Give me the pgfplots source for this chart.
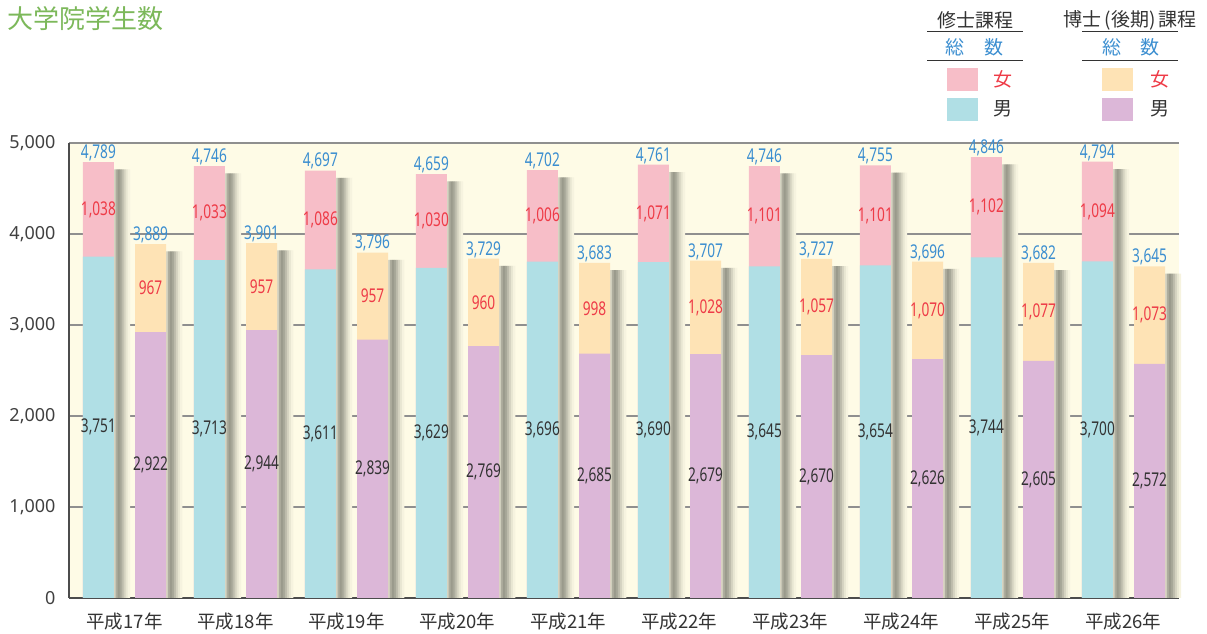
\documentclass[border=0pt]{standalone}
\usepackage{fontspec}
\setmainfont{Noto Sans CJK JP}
\newfontfamily\numfont[FakeStretch=0.72]{Noto Sans}
\newfontfamily\tickfont{Noto Sans}
\usepackage{pgfplots}
\usepackage{pgfplotstable}
\pgfplotsset{compat=1.18}

\definecolor{cream}{HTML}{FEFBE6}
\definecolor{mpink}{HTML}{F7BEC8}
\definecolor{mcyan}{HTML}{B0DFE5}
\definecolor{dpeach}{HTML}{FEE3B5}
\definecolor{dpurple}{HTML}{DCB7D8}
\definecolor{totc}{HTML}{3B8ED0}
\definecolor{femc}{HTML}{EE3B47}
\definecolor{malc}{HTML}{333333}
\definecolor{titlec}{HTML}{7CB85A}
\definecolor{gridc}{HTML}{8F8F8F}
\definecolor{shadowc}{HTML}{9A9A8C}
\colorlet{sh0}{shadowc!40!cream}
\colorlet{sh1}{shadowc!80!cream}
\colorlet{sh2}{shadowc!100!cream}
\colorlet{sh3}{shadowc!88!cream}
\colorlet{sh4}{shadowc!66!cream}
\colorlet{sh5}{shadowc!42!cream}
\colorlet{sh6}{shadowc!22!cream}
\colorlet{sh7}{shadowc!8!cream}

\pgfplotstableread{
idx mm mf mt dm df dt
0 3751 1038 4789 2922 967 3889
1 3713 1033 4746 2944 957 3901
2 3611 1086 4697 2839 957 3796
3 3629 1030 4659 2769 960 3729
4 3696 1006 4702 2685 998 3683
5 3690 1071 4761 2679 1028 3707
6 3645 1101 4746 2670 1057 3727
7 3654 1101 4755 2626 1070 3696
8 3744 1102 4846 2605 1077 3682
9 3700 1094 4794 2572 1073 3645
}\data

% #1 x offset, #2 total column, #3 shift, #4 colour
\newcommand\strip[4]{%
 \addplot[ybar,bar width=2.4pt,bar shift=#3,draw=none,fill=#4] table[x expr=\thisrow{idx}#1, y expr=\thisrow{#2}-80]{\data};}
\newcommand\shadowstrips[2]{%
 \strip{#1}{#2}{16.5pt}{sh0}\strip{#1}{#2}{18.5pt}{sh1}\strip{#1}{#2}{20.5pt}{sh2}\strip{#1}{#2}{22.5pt}{sh3}%
 \strip{#1}{#2}{24.5pt}{sh4}\strip{#1}{#2}{26.5pt}{sh5}\strip{#1}{#2}{28.5pt}{sh6}\strip{#1}{#2}{30.5pt}{sh7}}
\newcommand\numlbl{\numfont\fontsize{19}{19}\selectfont}

\begin{document}
\begin{tikzpicture}[x=1pt,y=1pt]
\useasboundingbox (0,0) rectangle (1207,634);
\begin{axis}[
  at={(69pt,36pt)}, anchor=south west,
  scale only axis, width=1110pt, height=455pt,
  xmin=-0.5, xmax=9.5, ymin=0, ymax=5000,
  clip=false,
  axis background/.style={fill=cream},
  axis x line*=bottom, axis y line*=left,
  axis line style={draw=black!70, line width=1.3pt},
  ymajorgrids, grid style={draw=gridc, line width=1.3pt},
  ytick={0,1000,...,5000},
  scaled y ticks=false,
  xtick={0,...,9},
  xticklabels={平成17年,平成18年,平成19年,平成20年,平成21年,平成22年,平成23年,平成24年,平成25年,平成26年},
  minor xtick={0.5,1.5,...,8.5},
  tick align=inside, major tick length=0pt, minor tick length=7pt,
  minor tick style={draw=black!70, line width=0.8pt},
  /pgf/number format/1000 sep={,},
  /pgf/number format/assume math mode=true,
  yticklabel style={font=\tickfont\fontsize{18}{18}\selectfont, text=black!75, xshift=-10pt},
  xticklabel style={font=\fontsize{18.5}{18.5}\selectfont, text=black!80, yshift=-11pt},
]
% shadows
\shadowstrips{-0.235}{mt}
\shadowstrips{+0.235}{dt}
% master bars
\addplot[ybar, bar width=31pt, bar shift=0pt, draw=none, fill=mpink] table[x expr=\thisrow{idx}-0.235, y=mt]{\data};
\addplot[ybar, bar width=31pt, bar shift=0pt, draw=none, fill=mcyan] table[x expr=\thisrow{idx}-0.235, y=mm]{\data};
% doctor bars
\addplot[ybar, bar width=31pt, bar shift=0pt, draw=none, fill=dpeach] table[x expr=\thisrow{idx}+0.235, y=dt]{\data};
\addplot[ybar, bar width=31pt, bar shift=0pt, draw=none, fill=dpurple] table[x expr=\thisrow{idx}+0.235, y=dm]{\data};
% labels: totals
\addplot[draw=none, nodes near coords, point meta=explicit,
  nodes near coords style={font=\numlbl, text=totc, anchor=south, inner sep=0pt, yshift=1pt}]
  table[x expr=\thisrow{idx}-0.235, y=mt, meta=mt]{\data};
\addplot[draw=none, nodes near coords, point meta=explicit,
  nodes near coords style={font=\numlbl, text=totc, anchor=south, inner sep=0pt, yshift=1pt}]
  table[x expr=\thisrow{idx}+0.235, y=dt, meta=dt]{\data};
% female
\addplot[draw=none, nodes near coords, point meta=explicit,
  nodes near coords style={font=\numlbl, text=femc, anchor=center}]
  table[x expr=\thisrow{idx}-0.235, y expr=\thisrow{mm}+\thisrow{mf}/2, meta=mf]{\data};
\addplot[draw=none, nodes near coords, point meta=explicit,
  nodes near coords style={font=\numlbl, text=femc, anchor=center}]
  table[x expr=\thisrow{idx}+0.235, y expr=\thisrow{dm}+\thisrow{df}/2, meta=df]{\data};
% male
\addplot[draw=none, nodes near coords, point meta=explicit,
  nodes near coords style={font=\numlbl, text=malc, anchor=center}]
  table[x expr=\thisrow{idx}-0.235, y expr=\thisrow{mm}/2, meta=mm]{\data};
\addplot[draw=none, nodes near coords, point meta=explicit,
  nodes near coords style={font=\numlbl, text=malc, anchor=center}]
  table[x expr=\thisrow{idx}+0.235, y expr=\thisrow{dm}/2, meta=dm]{\data};
\end{axis}
% title
\node[anchor=west, text=titlec, font=\fontsize{26}{26}\selectfont, inner sep=0pt] at (7,615) {大学院学生数};
% legend: master
\begin{scope}[font=\fontsize{19}{19}\selectfont]
\node[text=black!80] at (975,614) {修士課程};
\draw[black!80, line width=1pt] (927,602) -- (1023,602);
\node[text=totc] at (955,587) {総};
\node[text=totc] at (994,587) {数};
\draw[black!80, line width=1pt] (927,573) -- (1023,573);
\fill[mpink] (947,543) rectangle (978,566);
\node[text=femc] at (1003,555) {女};
\fill[mcyan] (947,513) rectangle (978,536);
\node[text=malc] at (1003,525) {男};
% doctor
\node[text=black!80] at (1130,614) {博士\,(後期)\,課程};
\draw[black!80, line width=1pt] (1082,602) -- (1178,602);
\node[text=totc] at (1112,587) {総};
\node[text=totc] at (1150,587) {数};
\draw[black!80, line width=1pt] (1082,573) -- (1178,573);
\fill[dpeach] (1102,543) rectangle (1133,566);
\node[text=femc] at (1160,555) {女};
\fill[dpurple] (1102,513) rectangle (1133,536);
\node[text=malc] at (1160,525) {男};
\end{scope}
\end{tikzpicture}
\end{document}
